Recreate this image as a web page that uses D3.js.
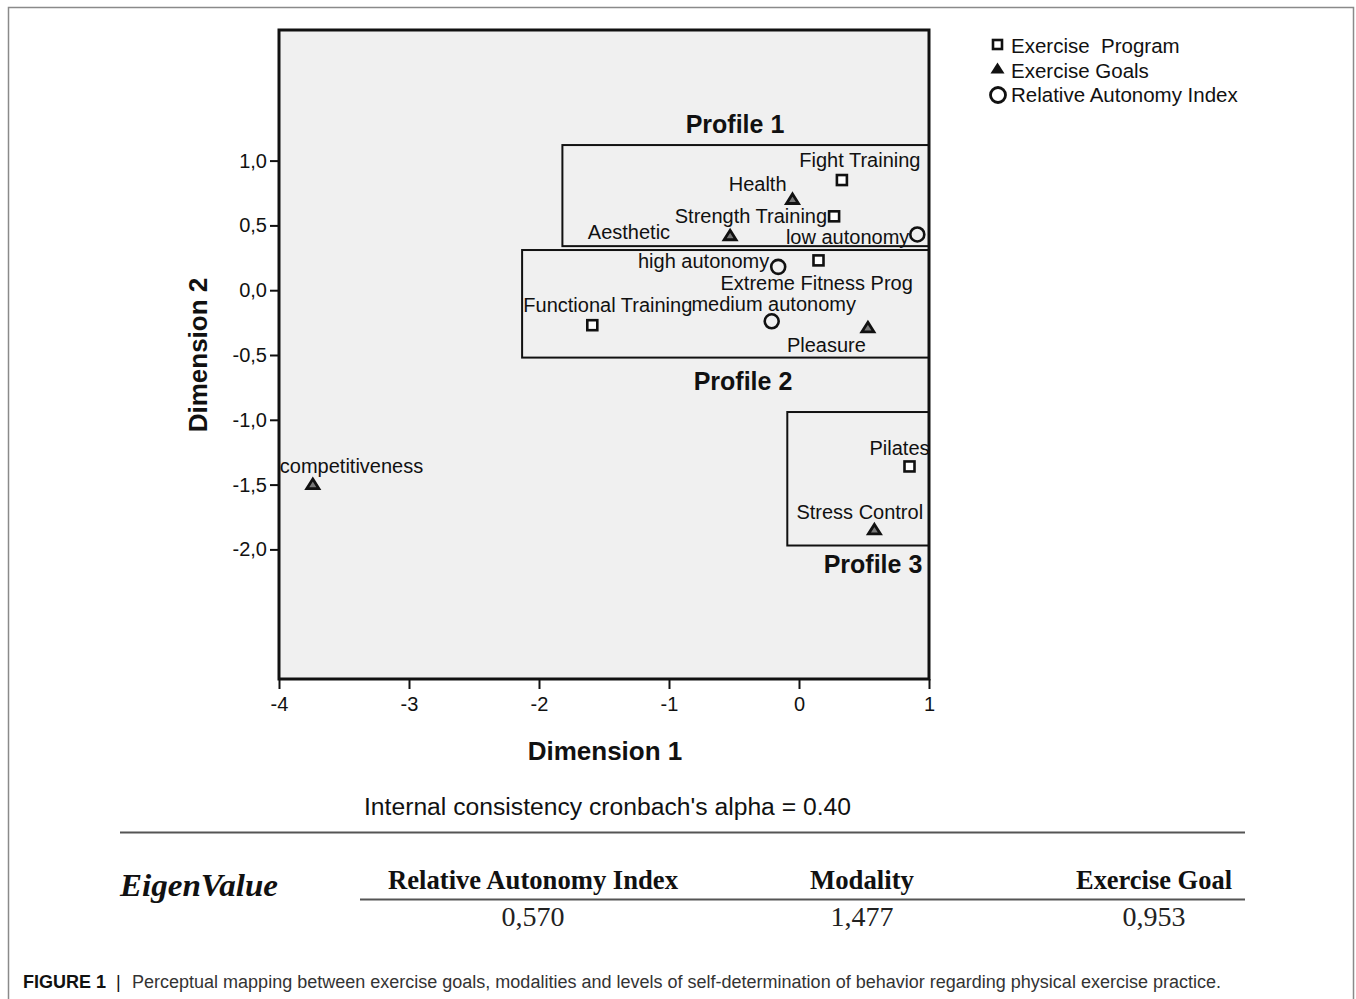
<!DOCTYPE html>
<html>
<head>
<meta charset="utf-8">
<script src="https://cdn.jsdelivr.net/npm/d3@7"></script>
<style>
  html, body { margin: 0; padding: 0; background: #fff; }
</style>
</head>
<body>
<svg id="chart" width="1356" height="999" font-family="Liberation Sans, Arial, sans-serif"></svg>
<script>
// ---------------- DATA ----------------
const pointLabels = ["Fight Training", "Health", "Strength Training", "Aesthetic", "low autonomy",
  "high autonomy", "Extreme Fitness Prog", "Functional Training", "medium autonomy", "Pleasure",
  "Pilates", "Stress Control", "competitiveness"];
const pointGroups = ["Exercise Program", "Exercise Goals", "Exercise Program", "Exercise Goals", "Relative Autonomy Index",
  "Relative Autonomy Index", "Exercise Program", "Exercise Program", "Relative Autonomy Index", "Exercise Goals",
  "Exercise Program", "Exercise Goals", "Exercise Goals"];
const dimension1 = [0.33, -0.05, 0.27, -0.53, 0.91, -0.16, 0.15, -1.59, -0.21, 0.53, 0.85, 0.58, -3.74];
const dimension2 = [0.85, 0.70, 0.57, 0.42, 0.43, 0.18, 0.23, -0.27, -0.24, -0.29, -1.36, -1.85, -1.50];

const legendLabels = ["Exercise  Program", "Exercise Goals", "Relative Autonomy Index"];

const profileNames = ["Profile 1", "Profile 2", "Profile 3"];
const profileX0 = [-1.82, -2.13, -0.09];
const profileX1 = [1.0, 1.0, 1.0];
const profileY0 = [0.34, -0.52, -1.97];
const profileY1 = [1.12, 0.31, -0.94];

const xTicks = [-4, -3, -2, -1, 0, 1];
const yTicks = [1.0, 0.5, 0.0, -0.5, -1.0, -1.5, -2.0];

const eigenHeaders = ["Relative Autonomy Index", "Modality", "Exercise Goal"];
const eigenValues = ["0,570", "1,477", "0,953"];
const cronbachAlpha = "0.40";

// label placement (styling only)
const labelPlace = [
  {a: "middle", dx: 18, dy: -13}, {a: "end", dx: -6, dy: -8}, {a: "end", dx: -7, dy: 7},
  {a: "end", dx: -60, dy: 3}, {a: "end", dx: -8, dy: 10}, {a: "end", dx: -9, dy: 1},
  {a: "start", dx: -98, dy: 30}, {a: "start", dx: -69, dy: -13}, {a: "middle", dx: 2, dy: -10},
  {a: "end", dx: -2, dy: 24}, {a: "end", dx: 20, dy: -11}, {a: "start", dx: -78, dy: -11},
  {a: "start", dx: -33, dy: -12}
];
const profileLabelPlace = [
  {x: 735, y: 133}, {x: 743, y: 390}, {x: 873, y: 573}
];

// ---------------- DRAW ----------------
const svg = d3.select("#chart");
const L = 279, R = 929, T = 30, B = 679;
const x = d3.scaleLinear().domain([-4, 1]).range([L, R]);
const y = d3.scaleLinear().domain([-3, 2]).range([B, T + 1]);

// outer figure border
svg.append("path").attr("d", "M8.5,999 V7.5 H1353.5 V999").attr("fill", "none")
  .attr("stroke", "#8a8a8a").attr("stroke-width", 1.5);

// plot background
svg.append("rect").attr("x", L).attr("y", T).attr("width", R - L).attr("height", B - T)
  .attr("fill", "#f0f0f0");

const defs = svg.append("defs");
defs.append("clipPath").attr("id", "plotclip").append("rect")
  .attr("x", L + 1).attr("y", T).attr("width", R - L - 1).attr("height", B - T);

// profile boxes
const pg = svg.append("g");
profileNames.forEach((n, i) => {
  pg.append("rect")
    .attr("x", x(profileX0[i])).attr("y", y(profileY1[i]))
    .attr("width", x(profileX1[i]) - x(profileX0[i]))
    .attr("height", y(profileY0[i]) - y(profileY1[i]))
    .attr("fill", "none").attr("stroke", "#111").attr("stroke-width", 2);
  pg.append("text").attr("x", profileLabelPlace[i].x).attr("y", profileLabelPlace[i].y)
    .attr("text-anchor", "middle").attr("font-size", 25).attr("font-weight", "bold")
    .attr("fill", "#111").text(n);
});

// point labels (clipped to plot)
const lg = svg.append("g").attr("clip-path", "url(#plotclip)");
pointLabels.forEach((t, i) => {
  lg.append("text")
    .attr("x", x(dimension1[i]) + labelPlace[i].dx)
    .attr("y", y(dimension2[i]) + labelPlace[i].dy)
    .attr("text-anchor", labelPlace[i].a)
    .attr("font-size", 20).attr("fill", "#111").text(t);
});

// markers
function drawMarker(g, group, cx, cy) {
  if (group === "Exercise Program") {
    g.append("rect").attr("x", cx - 5).attr("y", cy - 5).attr("width", 10).attr("height", 10)
      .attr("fill", "#fff").attr("stroke", "#111").attr("stroke-width", 2.6);
  } else if (group === "Exercise Goals") {
    g.append("path").attr("d", `M${cx},${cy - 5.5} L${cx + 6},${cy + 4} L${cx - 6},${cy + 4} Z`)
      .attr("fill", "#777").attr("stroke", "#111").attr("stroke-width", 2.8).attr("stroke-linejoin", "miter");
  } else {
    g.append("circle").attr("cx", cx).attr("cy", cy).attr("r", 7)
      .attr("fill", "none").attr("stroke", "#111").attr("stroke-width", 2.6);
  }
}
const mg = svg.append("g");
dimension1.forEach((v, i) => drawMarker(mg, pointGroups[i], x(v), y(dimension2[i])));

// frame
svg.append("rect").attr("x", L).attr("y", T).attr("width", R - L).attr("height", B - T)
  .attr("fill", "none").attr("stroke", "#111").attr("stroke-width", 3);

// axes
const fmt = d => d3.format(".1f")(d).replace(".", ",").replace("−", "-");
const yAxis = d3.axisLeft(y).tickValues(yTicks).tickSize(9).tickPadding(3).tickFormat(fmt);
const yg = svg.append("g").attr("transform", `translate(${L},0)`).call(yAxis);
yg.select(".domain").remove();
yg.selectAll("line").attr("stroke", "#111").attr("stroke-width", 2);
yg.selectAll("text").attr("font-size", 20).attr("fill", "#111")
  .attr("font-family", "Liberation Sans, Arial, sans-serif");

const xAxis = d3.axisBottom(x).tickValues(xTicks).tickSize(10).tickPadding(8)
  .tickFormat(d => String(d));
const xg = svg.append("g").attr("transform", `translate(0,${B})`).call(xAxis);
xg.select(".domain").remove();
xg.selectAll("line").attr("stroke", "#111").attr("stroke-width", 2);
xg.selectAll("text").attr("font-size", 20).attr("fill", "#111")
  .attr("font-family", "Liberation Sans, Arial, sans-serif");

// axis titles
svg.append("text").attr("x", 605).attr("y", 760).attr("text-anchor", "middle")
  .attr("font-size", 26).attr("font-weight", "bold").attr("fill", "#111").text("Dimension 1");
svg.append("text").attr("transform", "translate(207,355) rotate(-90)").attr("text-anchor", "middle")
  .attr("font-size", 26).attr("font-weight", "bold").attr("fill", "#111").text("Dimension 2");

// legend
const leg = svg.append("g");
legendLabels.forEach((t, i) => {
  const cy = 45 + i * 24.5;
  if (i === 0) {
    leg.append("rect").attr("x", 993).attr("y", cy - 5).attr("width", 9).attr("height", 9)
      .attr("fill", "#fff").attr("stroke", "#111").attr("stroke-width", 2.6);
  } else if (i === 1) {
    leg.append("path").attr("d", `M997.5,${cy - 7} L1004.5,${cy + 4} L990.5,${cy + 4} Z`).attr("fill", "#111");
  } else {
    leg.append("circle").attr("cx", 998).attr("cy", cy + 1).attr("r", 7.5)
      .attr("fill", "none").attr("stroke", "#111").attr("stroke-width", 2.8);
  }
  leg.append("text").attr("x", 1011).attr("y", cy + 8).attr("font-size", 20.5)
    .attr("fill", "#111").style("white-space", "pre").text(t);
});

// bottom section
svg.append("text").attr("x", 364).attr("y", 815).attr("font-size", 23).attr("fill", "#111")
  .attr("textLength", 487).attr("lengthAdjust", "spacingAndGlyphs")
  .text("Internal consistency cronbach's alpha = " + cronbachAlpha);
svg.append("line").attr("x1", 120).attr("x2", 1245).attr("y1", 832.5).attr("y2", 832.5)
  .attr("stroke", "#555").attr("stroke-width", 2);

const serif = "Liberation Serif, Times New Roman, serif";
svg.append("text").attr("x", 120).attr("y", 896).attr("font-family", serif)
  .attr("font-size", 31).attr("font-weight", "bold").attr("font-style", "italic")
  .attr("fill", "#111").attr("textLength", 158).attr("lengthAdjust", "spacingAndGlyphs").text("EigenValue");

const headX = [533, 862, 1154];
const headW = [290, 104, 156];
eigenHeaders.forEach((h, i) => {
  svg.append("text").attr("x", headX[i] - headW[i] / 2).attr("y", 889).attr("font-family", serif)
    .attr("font-size", 28).attr("font-weight", "bold").attr("fill", "#111")
    .attr("textLength", headW[i]).attr("lengthAdjust", "spacingAndGlyphs").text(h);
  svg.append("text").attr("x", headX[i]).attr("y", 926).attr("font-family", serif)
    .attr("font-size", 28).attr("text-anchor", "middle").attr("fill", "#222").text(eigenValues[i]);
});
svg.append("line").attr("x1", 360).attr("x2", 1245).attr("y1", 899.5).attr("y2", 899.5)
  .attr("stroke", "#555").attr("stroke-width", 2);

// caption
const cap = svg.append("text").attr("x", 23).attr("y", 988).attr("font-size", 18);
cap.append("tspan").attr("font-weight", "bold").attr("fill", "#111").text("FIGURE 1");
cap.append("tspan").attr("fill", "#111").attr("dx", 10).text("|");
svg.append("text").attr("x", 132).attr("y", 988).attr("font-size", 18).attr("fill", "#333")
  .attr("textLength", 1089).attr("lengthAdjust", "spacingAndGlyphs")
  .text("Perceptual mapping between exercise goals, modalities and levels of self-determination of behavior regarding physical exercise practice.");
</script>
</body>
</html>
